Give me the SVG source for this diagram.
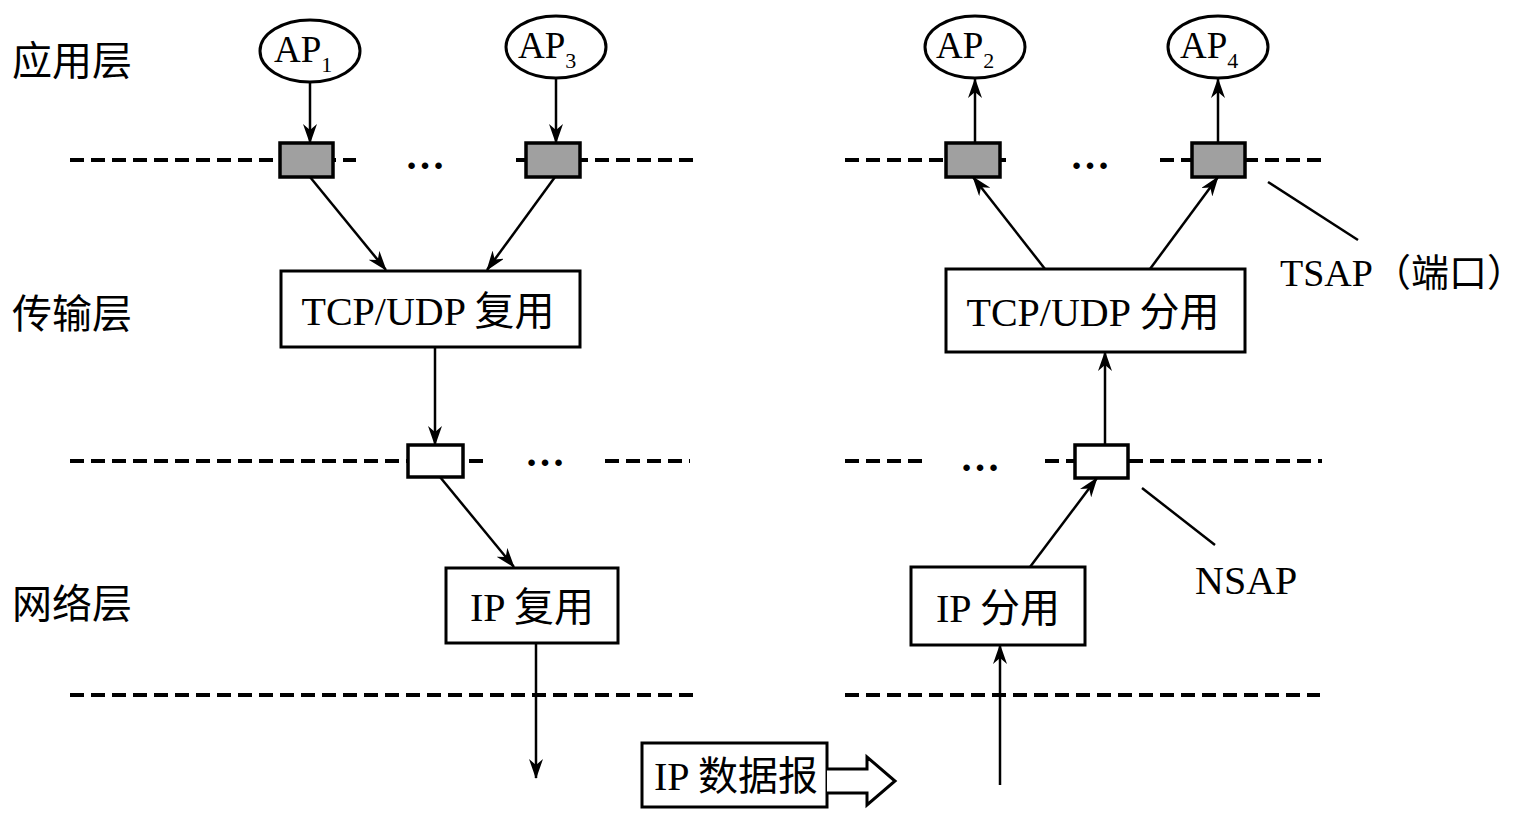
<svg xmlns="http://www.w3.org/2000/svg" width="1527" height="827" viewBox="0 0 1527 827">
<style>
.t{font-family:"Liberation Serif","Noto Sans CJK SC",serif;fill:#000}
.lbl{font-size:40px}
.box{fill:#fff;stroke:#000;stroke-width:3}
.gbox{fill:#a0a0a0;stroke:#000;stroke-width:3.5}
.wbox{fill:#fff;stroke:#000;stroke-width:3.5}
.dash{stroke:#000;stroke-width:4;stroke-dasharray:14 7;fill:none}
.ell{fill:#fff;stroke:#000;stroke-width:3}
.arr{stroke:#000;stroke-width:2.5;fill:none;marker-end:url(#ah)}
.ln{stroke:#000;stroke-width:2.5;fill:none}
.dots{font-size:40px;font-weight:bold}
</style>
<defs>
<marker id="ah" viewBox="0 0 20 14" refX="19" refY="7" markerWidth="20" markerHeight="14" markerUnits="userSpaceOnUse" orient="auto">
<path d="M0,0 L20,7 L0,14 L6,7 Z" fill="#000"/>
</marker>
</defs>
<g id="layers">
<text class="t" x="12" y="75" font-size="40">应用层</text>
<text class="t" x="12" y="328" font-size="40">传输层</text>
<text class="t" x="12" y="618" font-size="40">网络层</text>
</g>
<g id="lines">
<line class="dash" x1="70" y1="160" x2="695" y2="160"/>
<line class="dash" x1="845" y1="160" x2="1325" y2="160"/>
<line class="dash" x1="70" y1="461" x2="490" y2="461"/>
<line class="dash" x1="605" y1="461" x2="690" y2="461"/>
<line class="dash" x1="845" y1="461" x2="925" y2="461"/>
<line class="dash" x1="1045" y1="461" x2="1322" y2="461"/>
<line class="dash" x1="70" y1="695" x2="693" y2="695"/>
<line class="dash" x1="845" y1="695" x2="1320" y2="695"/>
</g>
<rect x="356" y="145" width="160" height="30" fill="#fff"/>
<rect x="1010" y="145" width="148" height="30" fill="#fff"/>
<rect x="495" y="445" width="105" height="30" fill="#fff"/>
<rect x="930" y="445" width="110" height="30" fill="#fff"/>
<g id="dots">
<text class="t dots" x="425" y="169" text-anchor="middle">…</text>
<text class="t dots" x="1090" y="169" text-anchor="middle">…</text>
<text class="t dots" x="545" y="466" text-anchor="middle">…</text>
<text class="t dots" x="980" y="471" text-anchor="middle">…</text>
</g>
<g id="ap1"><ellipse class="ell" cx="310" cy="51" rx="50" ry="31"/><text class="t" x="274" y="62" font-size="37">AP<tspan font-size="22" dy="10">1</tspan></text></g>
<g id="ap3"><ellipse class="ell" cx="556" cy="47" rx="50" ry="31"/><text class="t" x="518" y="58" font-size="37">AP<tspan font-size="22" dy="10">3</tspan></text></g>
<g id="ap2"><ellipse class="ell" cx="975" cy="47" rx="50" ry="31"/><text class="t" x="936" y="58" font-size="37">AP<tspan font-size="22" dy="10">2</tspan></text></g>
<g id="ap4"><ellipse class="ell" cx="1218" cy="47" rx="50" ry="31"/><text class="t" x="1180" y="58" font-size="37">AP<tspan font-size="22" dy="10">4</tspan></text></g>
<g id="tsap1"><rect class="gbox" x="280" y="143" width="53" height="34"/></g>
<g id="tsap3"><rect class="gbox" x="526" y="143" width="54" height="34"/></g>
<g id="tsap2"><rect class="gbox" x="946" y="143" width="54" height="34"/></g>
<g id="tsap4"><rect class="gbox" x="1192" y="143" width="53" height="34"/></g>
<g id="tcp-mux"><rect class="box" x="281" y="271" width="299" height="76"/><text class="t lbl" x="428" y="325" text-anchor="middle">TCP/UDP 复用</text></g>
<g id="tcp-demux"><rect class="box" x="946" y="269" width="299" height="83"/><text class="t lbl" x="1093" y="326" text-anchor="middle">TCP/UDP 分用</text></g>
<g id="nsap1"><rect class="wbox" x="408" y="445" width="55" height="32"/></g>
<g id="nsap2"><rect class="wbox" x="1075" y="445" width="53" height="33"/></g>
<g id="ip-mux"><rect class="box" x="446" y="568" width="172" height="75"/><text class="t lbl" x="532" y="621" text-anchor="middle">IP 复用</text></g>
<g id="ip-demux"><rect class="box" x="911" y="567" width="174" height="78"/><text class="t lbl" x="998" y="622" text-anchor="middle">IP 分用</text></g>
<g id="datagram"><rect class="box" x="642" y="743" width="185" height="64"/><text class="t lbl" x="736" y="790" text-anchor="middle">IP 数据报</text>
<path d="M827,769 L867,769 L867,757 L895,781 L867,805 L867,793 L827,793" fill="#fff" stroke="#000" stroke-width="3"/></g>
<g id="tsap-label"><text class="t" x="1280" y="286" font-size="38">TSAP（端口）</text></g>
<g id="nsap-label"><text class="t" x="1195" y="594" font-size="40">NSAP</text></g>
<g id="connectors">
<line class="arr" x1="310" y1="82" x2="310" y2="143"/>
<line class="arr" x1="556" y1="78" x2="556" y2="143"/>
<line class="arr" x1="310" y1="177" x2="386" y2="270"/>
<line class="arr" x1="555" y1="177" x2="487" y2="270"/>
<line class="arr" x1="435" y1="347" x2="435" y2="445"/>
<line class="arr" x1="440" y1="477" x2="514" y2="567"/>
<line class="arr" x1="536" y1="643" x2="536" y2="778"/>
<line class="arr" x1="1000" y1="785" x2="1000" y2="645"/>
<line class="arr" x1="1030" y1="567" x2="1097" y2="478"/>
<line class="arr" x1="1105" y1="445" x2="1105" y2="352"/>
<line class="arr" x1="1045" y1="269" x2="973" y2="177"/>
<line class="arr" x1="1150" y1="269" x2="1218" y2="177"/>
<line class="arr" x1="975" y1="143" x2="975" y2="79"/>
<line class="arr" x1="1218" y1="143" x2="1218" y2="79"/>
<line class="ln" x1="1268" y1="182" x2="1358" y2="240"/>
<line class="ln" x1="1142" y1="488" x2="1215" y2="545"/>
</g>
</svg>
